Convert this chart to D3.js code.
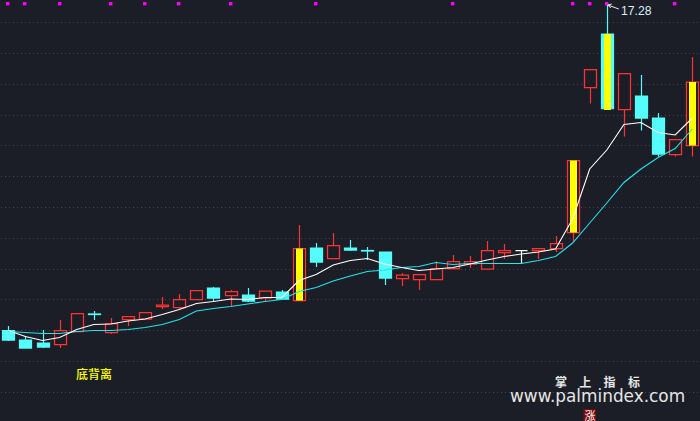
<!DOCTYPE html>
<html><head><meta charset="utf-8">
<script src="https://cdn.jsdelivr.net/npm/d3@7/dist/d3.min.js"></script>
<style>html,body{margin:0;padding:0;background:#1b1e26;overflow:hidden}svg{display:block}</style>
</head><body><div id="c"></div>
<script>
const highs=[10.86,10.66,10.78,10.98,11.11,11.16,11.02,11.05,11.13,11.44,11.50,11.57,11.64,11.58,11.62,11.56,11.58,12.88,12.52,12.72,12.58,12.44,12.34,11.92,11.89,12.15,12.28,12.26,12.56,12.50,12.37,12.41,12.66,14.17,15.99,17.28,15.91,15.88,15.12,14.59,16.24];
const lows=[10.56,10.42,10.42,10.42,10.75,10.98,10.70,10.86,11.00,11.20,11.20,11.39,11.34,11.26,11.34,11.36,11.40,11.37,12.04,12.21,12.36,12.18,11.68,11.66,11.58,11.79,12.01,12.02,12.00,12.20,12.11,12.20,12.34,12.54,15.31,15.21,14.65,14.77,14.25,14.25,14.25];
const opens=[10.77,10.58,10.52,10.49,10.75,11.10,10.73,10.99,11.00,11.25,11.23,11.39,11.62,11.47,11.48,11.42,11.54,11.37,12.42,12.21,12.42,12.37,12.34,11.81,11.79,11.79,12.01,12.10,12.00,12.33,12.37,12.37,12.41,12.73,15.63,16.70,15.19,15.46,15.02,14.29,14.47];
const closes=[10.58,10.42,10.44,10.77,11.11,11.09,10.91,11.05,11.13,11.28,11.39,11.57,11.42,11.55,11.36,11.56,11.40,12.41,12.14,12.47,12.38,12.36,11.82,11.88,11.89,12.01,12.15,12.15,12.37,12.37,12.37,12.41,12.51,14.17,15.99,15.21,15.91,15.02,14.30,14.59,15.74];
const maFast=[10.77,10.65,10.57,10.63,10.79,10.89,10.90,10.96,11.00,11.09,11.19,11.31,11.35,11.40,11.39,11.43,11.43,11.77,11.89,12.08,12.17,12.21,12.10,12.03,11.97,12.00,12.03,12.10,12.18,12.25,12.30,12.34,12.40,13.00,14.00,14.38,14.89,14.93,14.73,14.68,15.02];
const maSlow=[10.75,10.73,10.71,10.71,10.75,10.77,10.77,10.79,10.83,10.89,10.99,11.16,11.21,11.25,11.30,11.35,11.39,11.55,11.63,11.76,11.86,11.95,11.98,12.03,12.05,12.13,12.09,12.11,12.11,12.11,12.11,12.17,12.25,12.52,12.92,13.32,13.73,14.00,14.23,14.41,14.80];
const signalIdx=[17,33,35,40];
const signalTop=[12.41,14.17,16.70,15.74];
const signalBottom=[11.37,12.73,15.18,14.47];
const markerIdx=[0,1,3,6,8,10,13,18,26,33,34,35,39];
const gridTicks=[16.93,16.31,15.69,15.07,14.47,13.85,13.23,12.61,11.99,11.38,10.78,10.16,9.54];
const peakLabel="17.28", peakIdx=35;
const signalName="底背离", brandCn=["掌","上","指","标"], brandUrl="www.palmindex.com", badge="涨";

const W=700,H=421,RED="#ff3232",CYAN="#54fcfc",YEL="#ffff00",BG="#1b1e26";
const svg=d3.select("#c").append("svg").attr("width",W).attr("height",H);
svg.append("rect").attr("width",W).attr("height",H).attr("fill",BG);
const x=d3.scaleLinear().domain([0,40]).range([8.3,692.3]);
const y=d3.scaleLinear().domain([17.38,8.96]).range([0,421]);

svg.append("g").selectAll("line").data(gridTicks).join("line")
 .attr("x1",1).attr("x2",W).attr("y1",d=>Math.floor(y(d))+.5).attr("y2",d=>Math.floor(y(d))+.5)
 .attr("stroke","#41454c").attr("stroke-dasharray","1 3");

svg.append("g").selectAll("rect").data(markerIdx).join("rect")
 .attr("x",d=>Math.round(x(d))-2).attr("y",2).attr("width",3.4).attr("height",3.4).attr("fill","#ff00ff");

const cand=highs.map((h,i)=>({i,h,l:lows[i],o:opens[i],c:closes[i]}));
const col=d=>d.c>d.o?RED:(d.c<d.o?CYAN:"#ffffff");
const cx=d=>Math.round(x(d.i))+.5;
const g=svg.append("g");
g.selectAll("line.w").data(cand).join("line").attr("class","w")
 .attr("x1",cx).attr("x2",cx).attr("y1",d=>y(d.h)).attr("y2",d=>y(d.l))
 .attr("stroke",col).attr("stroke-width",1.2);
g.selectAll("path.b").data(cand).join("path").attr("class","b")
 .attr("d",d=>{const t=y(Math.max(d.o,d.c)),b=y(Math.min(d.o,d.c)),l=cx(d)-6;return `M${l} ${t}H${l+12}V${b}H${l}Z`;})
 .attr("fill",d=>d.c<d.o?CYAN:BG).attr("stroke",col).attr("stroke-width",1.25);

const line=a=>d3.line().x((d,i)=>x(i)).y(d=>y(d))(a);
svg.append("path").attr("d",line(maSlow)).attr("fill","none").attr("stroke","#1fe6ee").attr("stroke-width",1.1);
svg.append("path").attr("d",line(maFast)).attr("fill","none").attr("stroke","#ffffff").attr("stroke-width",1.1);

g.append("g").selectAll("rect").data(signalIdx).join("rect")
 .attr("x",d=>Math.round(x(d))-3).attr("width",7)
 .attr("y",(d,i)=>y(signalTop[i]))
 .attr("height",(d,i)=>y(signalBottom[i])-y(signalTop[i]))
 .attr("fill",YEL);

const t=(s,xx,yy,fs,fill,fam,w)=>svg.append("text").attr("x",xx).attr("y",yy).attr("font-size",fs).attr("fill",fill).attr("font-family",fam).attr("font-weight",w||"normal").text(s);
const ax=x(peakIdx)+1;
svg.append("path").attr("d",`M${ax} ${y(17.28)}L${ax+11} 9M${ax} ${y(17.28)}l4 -1M${ax} ${y(17.28)}l3 3`).attr("stroke","#e8e8e8").attr("fill","none");
t(peakLabel,621,15,12.2,"#dcecf4","'Liberation Sans',Arial");
t(signalName,76,379,12,YEL,"'Noto Sans CJK SC'","500");
svg.append("g").selectAll("text").data(brandCn).join("text")
 .attr("x",(d,i)=>555+i*24.3).attr("y",387).attr("font-size",12).attr("font-weight","bold")
 .attr("fill","#e6e6e6").attr("font-family","'Noto Sans CJK SC'").text(d=>d);
t(brandUrl,510,402,16.9,"#e6e6e6","'DejaVu Sans'");
svg.append("rect").attr("x",583.5).attr("y",409).attr("width",12.5).attr("height",12).attr("fill","#7a0a0a");
t(badge,584.5,419.5,11,"#ffffff","'Noto Sans CJK SC'");
</script></body></html>
